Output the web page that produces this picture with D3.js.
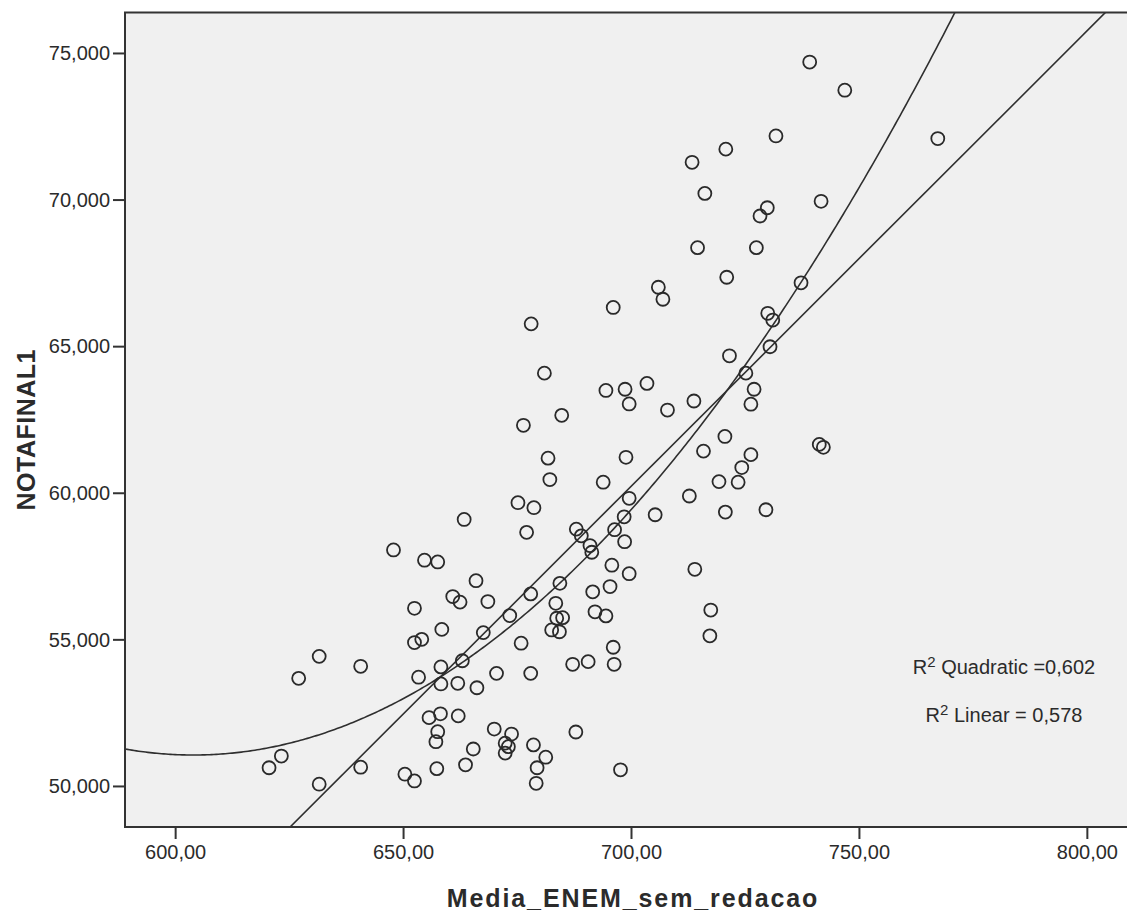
<!DOCTYPE html>
<html>
<head>
<meta charset="utf-8">
<script src="https://cdn.jsdelivr.net/npm/d3@7"></script>
<style>
  html, body { margin: 0; padding: 0; background: #ffffff; }
  svg { display: block; }
  text { font-family: "Liberation Sans", Arial, sans-serif; fill: #2b2b2b; }
</style>
</head>
<body>
<svg id="chart" width="1127" height="915"></svg>
<script>
// Média ENEM sem redação (x) vs. NOTAFINAL1 (y), one entry per student
const mediaEnem = [
  739.2, 746.9, 731.8, 767.3, 713.4, 720.8, 716.2, 741.7, 729.9, 728.3,
  714.6, 727.5, 721.0, 706.0, 707.0, 737.3, 696.1, 678.1, 730.0, 731.1,
  730.5, 721.6, 681.0, 725.2, 694.5, 698.7, 699.6, 703.5, 708.0, 713.8,
  727.0, 726.3, 676.4, 684.8, 681.8, 682.2, 675.2, 678.7, 663.4, 677.1,
  647.9, 720.6, 715.9, 726.3, 724.3, 723.5, 719.3, 698.9, 693.9, 712.8,
  720.7, 729.6, 705.3, 741.3, 742.2, 699.6, 698.5, 688.0, 689.1, 696.4,
  698.6, 691.0, 691.4, 695.8, 699.6, 714.0, 684.4, 678.0, 673.4, 668.6,
  691.6, 695.4, 683.5, 683.7, 685.0, 682.6, 684.3, 692.1, 694.5, 717.5,
  717.3, 675.9, 670.5, 678.0, 687.2, 690.6, 696.1, 696.3, 670.0, 673.8,
  672.4, 673.1, 672.4, 678.6, 681.3, 679.4, 679.2, 687.9, 697.7, 654.7,
  657.6, 666.0, 660.9, 662.5, 652.5, 658.5, 652.5, 654.1, 667.6, 631.6,
  640.7, 627.1, 653.4, 658.3, 663.0, 658.3, 662.0, 666.2, 655.7, 658.2,
  662.1, 657.6, 657.2, 665.4, 663.7, 657.4, 650.4, 652.5, 640.7, 631.6,
  620.6, 623.3
];
const notaFinal = [
  74.69, 73.73, 72.17, 72.08, 71.27, 71.72, 70.21, 69.94, 69.72, 69.44,
  68.36, 68.36, 67.35, 67.01, 66.60, 67.16, 66.32, 65.76, 66.12, 65.89,
  64.98, 64.67, 64.08, 64.08, 63.49, 63.53, 63.03, 63.73, 62.82, 63.13,
  63.53, 63.02, 62.30, 62.64, 61.18, 60.45, 59.66, 59.49, 59.09, 58.65,
  58.05, 61.92, 61.42, 61.30, 60.86, 60.36, 60.38, 61.21, 60.36, 59.89,
  59.34, 59.42, 59.25, 61.65, 61.55, 59.81, 59.18, 58.76, 58.53, 58.74,
  58.33, 58.20, 57.97, 57.53, 57.24, 57.39, 56.91, 56.55, 55.81, 56.29,
  56.62, 56.80, 56.23, 55.72, 55.74, 55.32, 55.26, 55.94, 55.80, 56.00,
  55.12, 54.87, 53.84, 53.84, 54.15, 54.24, 54.73, 54.15, 51.94, 51.77,
  51.46, 51.34, 51.12, 51.40, 50.98, 50.62, 50.09, 51.84, 50.55, 57.70,
  57.64, 57.00, 56.46, 56.27, 56.06, 55.34, 54.89, 55.00, 55.23, 54.42,
  54.08, 53.67, 53.71, 54.06, 54.27, 53.48, 53.50, 53.35, 52.33, 52.46,
  52.39, 51.85, 51.51, 51.26, 50.72, 50.59, 50.40, 50.17, 50.64, 50.06,
  50.62, 51.02
];

// Fitted curves: coefficients of y = c0 + c1*x (+ c2*x^2)
const linearFit = [-48.522, 0.15534];
const quadraticFit = [382.174, -1.09640, 0.0009076];
const fitLabels = ["Quadratic =0,602", "Linear = 0,578"];

const xTicks = [600, 650, 700, 750, 800];
const yTicks = [50, 55, 60, 65, 70, 75];
const xTitle = "Media_ENEM_sem_redacao";
const yTitle = "NOTAFINAL1";

const ptBR = d3.formatLocale({ decimal: ",", thousands: ".", grouping: [3], currency: ["R$", ""] });
const fmtX = ptBR.format(".2f");
const fmtY = ptBR.format(".3f");

const svg = d3.select("#chart");
const plot = { left: 125, top: 12.5, right: 1137, bottom: 827 };

const x = d3.scaleLinear().domain([589, 811]).range([plot.left, plot.right]);
const y = d3.scaleLinear().domain([48.6, 76.38]).range([plot.bottom, plot.top]);

// plot background
svg.append("rect")
  .attr("x", plot.left).attr("y", plot.top)
  .attr("width", plot.right - plot.left).attr("height", plot.bottom - plot.top)
  .attr("fill", "#f0f0f0");

svg.append("clipPath").attr("id", "plotClip")
  .append("rect")
  .attr("x", plot.left).attr("y", plot.top)
  .attr("width", plot.right - plot.left).attr("height", plot.bottom - plot.top);

// axes
const xAxis = d3.axisBottom(x).tickValues(xTicks).tickFormat(fmtX).tickSize(12).tickPadding(6);
const yAxis = d3.axisLeft(y).tickValues(yTicks).tickFormat(fmtY).tickSize(12).tickPadding(3);

const gx = svg.append("g").attr("transform", `translate(0,${plot.bottom})`).call(xAxis);
const gy = svg.append("g").attr("transform", `translate(${plot.left},0)`).call(yAxis);
[gx, gy].forEach(g => {
  g.select(".domain").remove();
  g.selectAll(".tick line").attr("stroke", "#333").attr("stroke-width", 2);
  g.selectAll(".tick text")
    .attr("font-family", "'Liberation Sans', Arial, sans-serif")
    .attr("font-size", 20).attr("fill", "#2b2b2b");
});
gy.selectAll(".tick text").attr("dy", "0.34em");

// fit curves
const lineGen = d3.line().x(d => x(d[0])).y(d => y(d[1]));
const curves = svg.append("g").attr("clip-path", "url(#plotClip)");
const xs = d3.range(589, 811.01, 0.5);
curves.append("path")
  .datum(xs.map(v => [v, quadraticFit[0] + quadraticFit[1] * v + quadraticFit[2] * v * v]))
  .attr("d", lineGen).attr("fill", "none").attr("stroke", "#2f2f2f").attr("stroke-width", 1.6);
curves.append("path")
  .datum([589, 811].map(v => [v, linearFit[0] + linearFit[1] * v]))
  .attr("d", lineGen).attr("fill", "none").attr("stroke", "#2f2f2f").attr("stroke-width", 1.6);

// data points
svg.append("g").attr("clip-path", "url(#plotClip)")
  .selectAll("circle")
  .data(mediaEnem.map((v, i) => [v, notaFinal[i]]))
  .join("circle")
  .attr("cx", d => x(d[0]))
  .attr("cy", d => y(d[1]))
  .attr("r", 6.5)
  .attr("fill", "none")
  .attr("stroke", "#2a2a2a")
  .attr("stroke-width", 1.8);

// frame
svg.append("rect")
  .attr("x", plot.left).attr("y", plot.top)
  .attr("width", plot.right - plot.left).attr("height", plot.bottom - plot.top)
  .attr("fill", "none").attr("stroke", "#333").attr("stroke-width", 2);

// R² annotations
const ann = svg.append("g");
fitLabels.forEach((lab, i) => {
  const t = ann.append("text")
    .attr("x", 1004).attr("y", 674 + i * 48)
    .attr("text-anchor", "middle")
    .attr("font-size", 20);
  t.append("tspan").text("R");
  t.append("tspan").attr("font-size", 15).attr("dy", -7).text("2");
  t.append("tspan").attr("dy", 7).text(" " + lab);
});

// axis titles
svg.append("text")
  .attr("x", (plot.left + plot.right) / 2 + 2).attr("y", 907)
  .attr("text-anchor", "middle")
  .attr("font-weight", "bold").attr("font-size", 25)
  .attr("letter-spacing", 1.9)
  .text(xTitle);

svg.append("text")
  .attr("transform", `translate(35,${(plot.top + plot.bottom) / 2 + 10}) rotate(-90)`)
  .attr("text-anchor", "middle")
  .attr("font-weight", "bold").attr("font-size", 25)
  .attr("letter-spacing", 0.5)
  .text(yTitle);
</script>
</body>
</html>
